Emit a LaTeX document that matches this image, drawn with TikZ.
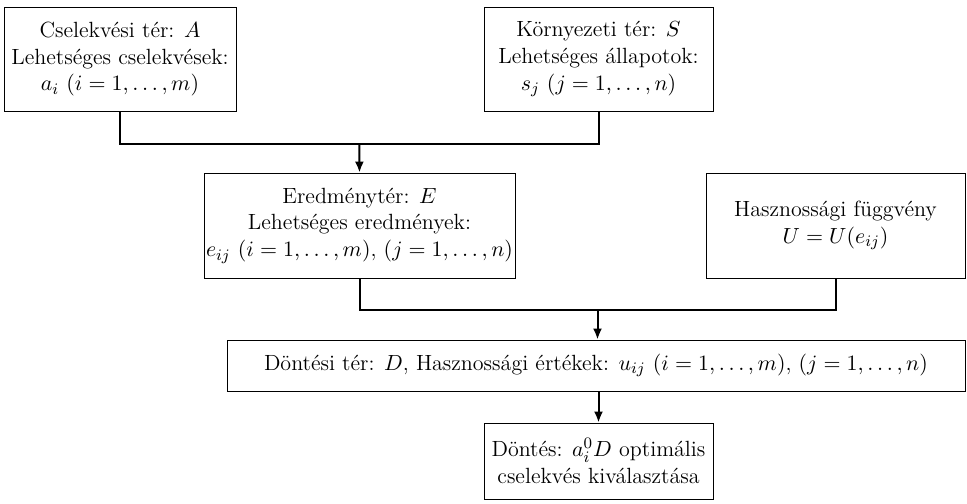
\documentclass[tikz,border=0pt]{standalone}
\usepackage{amsmath}
\usepackage{amssymb}
\usepackage{tikz}
\usetikzlibrary{arrows.meta}

\begin{document}
\begin{tikzpicture}[x=0.5pt,y=-0.5pt,box/.style={draw,line width=0.45pt,
	align=center,inner sep=1pt,font=\fontsize{11}{13.4}\selectfont},
	link/.style={line width=1pt},tip/.style={-{Latex[length=5.5pt,width=4.5pt]}}]
  \useasboundingbox (0,0) rectangle (967,503);
  % upper row
  \node[box,minimum width=116pt,minimum height=52pt] (act) at (120,59)
	{Cselekvési tér: $A$\\ Lehetséges cselekvések:\\ $a_i$ $(i=1,\ldots,m)$};
  \node[box,minimum width=114.5pt,minimum height=52pt] (env) at (598.5,59)
	{Környezeti tér: $S$\\ Lehetséges állapotok:\\ $s_j$ $(j=1,\ldots,n)$};
  % middle row
  \node[box,minimum width=132.5pt,minimum height=52.5pt] (res) at (359.5,225.5)
	{Eredménytér: $E$\\ Lehetséges eredmények:\\ $e_{ij}$ $(i=1,\ldots,m)$, $(j=1,\ldots,n)$};
  \node[box,minimum width=129.5pt,minimum height=52.5pt] (util) at (835.5,225.5)
	{Hasznossági függvény\\ $U=U(e_{ij})$};
  % lower part
  \node[box,minimum width=369pt,minimum height=25.5pt] (dec) at (596,365.5)
	{Döntési tér: $D$, Hasznossági értékek: $u_{ij}$ $(i=1,\ldots,m)$, $(j=1,\ldots,n)$};
  \node[box,minimum width=114.5pt,minimum height=38pt] (choice) at (598.5,461)
	{Döntés: $a_i^0D$ optimális\\ cselekvés kiválasztása};
  % connectors
  \coordinate (j1) at (359.25,144);
  \coordinate (j2) at (597.5,310);
  \draw[link] (act.south) |- (j1) -| (env.south);
  \draw[link,tip] (j1) -- (res.north);
  \draw[link] (res.south) |- (j2) -| (util.south);
  \draw[link,tip] (j2) -- (j2 |- dec.north);
  \draw[link,tip] (dec.south -| choice.north) -- (choice.north);
\end{tikzpicture}
\end{document}
